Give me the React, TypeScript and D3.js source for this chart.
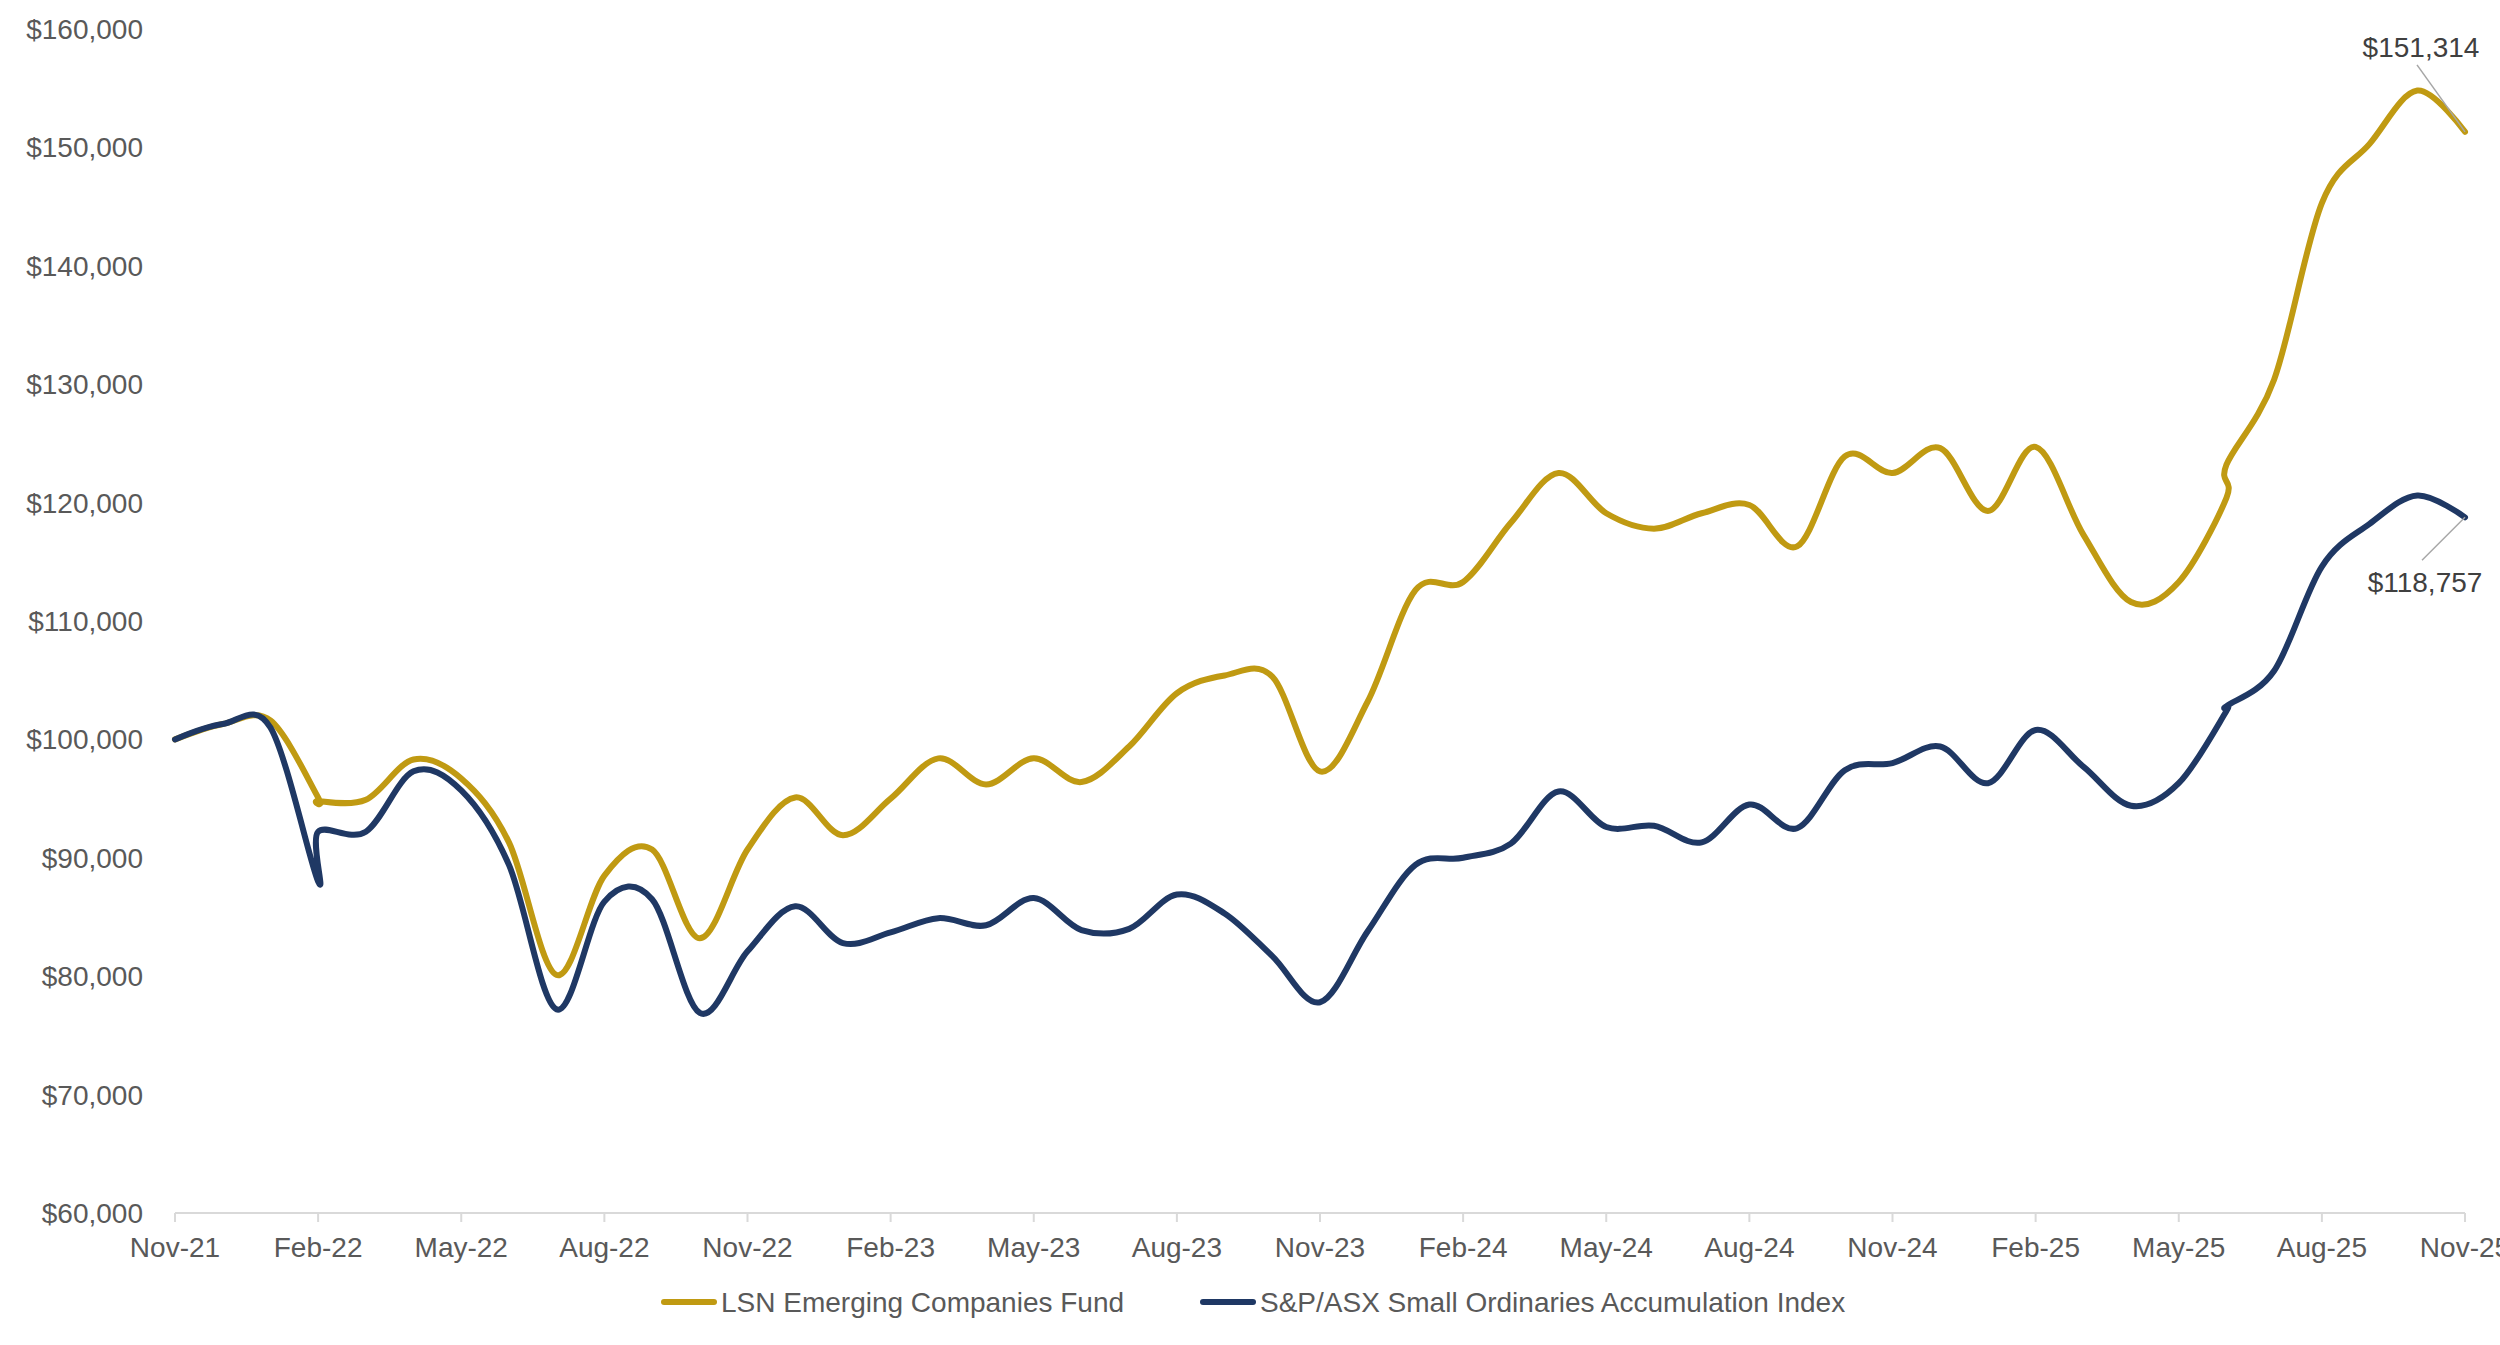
import React from "react";
import * as d3 from "d3";

// ---------- DATA ----------
const months: string[] = [
  "2021-11", "2021-12", "2022-01", "2022-02", "2022-02", "2022-03", "2022-04", "2022-05",
  "2022-06", "2022-07", "2022-08", "2022-09", "2022-10", "2022-11", "2022-12", "2023-01",
  "2023-02", "2023-03", "2023-04", "2023-05", "2023-06", "2023-07", "2023-08", "2023-09",
  "2023-10", "2023-11", "2023-12", "2024-01", "2024-02", "2024-03", "2024-04", "2024-05",
  "2024-06", "2024-07", "2024-08", "2024-09", "2024-10", "2024-11", "2024-12", "2025-01",
  "2025-02", "2025-03", "2025-04", "2025-05", "2025-06", "2025-06", "2025-07", "2025-08",
  "2025-09", "2025-10", "2025-11",
];

const fundValues: number[] = [
  100000, 101300, 101600, 95100, 94800, 94900, 98300, 96700,
  91300, 80100, 88500, 90700, 83200, 90700, 95100, 91900,
  95000, 98400, 96200, 98400, 96400, 99400, 103900, 105400,
  105300, 97300, 103200, 112600, 113300, 118300, 122500, 119100,
  117800, 119100, 119800, 116300, 123900, 122500, 124600, 119300,
  124700, 117300, 111600, 113300, 120400, 123200, 130400, 145300,
  150300, 154800, 151314,
];

const indexValues: number[] = [
  100000, 101300, 101000, 88000, 92200, 92200, 97300, 95700,
  89400, 77200, 86300, 86500, 76900, 82100, 85900, 82800,
  83700, 84900, 84300, 86600, 83900, 84000, 86900, 85300,
  81700, 77800, 83800, 89400, 90000, 91200, 95600, 92600,
  92700, 91300, 94500, 92500, 97400, 98000, 99400, 96300,
  100800, 97700, 94400, 96300, 102400, 102800, 105800, 114600,
  118200, 120600, 118757,
];

const xTickMonths: string[] = [
  "2021-11", "2022-02", "2022-05", "2022-08", "2022-11", "2023-02", "2023-05", "2023-08",
  "2023-11", "2024-02", "2024-05", "2024-08", "2024-11", "2025-02", "2025-05", "2025-08", "2025-11",
];
const xTickLabels: string[] = [
  "Nov-21", "Feb-22", "May-22", "Aug-22", "Nov-22", "Feb-23", "May-23", "Aug-23",
  "Nov-23", "Feb-24", "May-24", "Aug-24", "Nov-24", "Feb-25", "May-25", "Aug-25", "Nov-25",
];
const yTicks: number[] = [60000, 70000, 80000, 90000, 100000, 110000, 120000, 130000, 140000, 150000, 160000];

const seriesNames: string[] = ["LSN Emerging Companies Fund", "S&P/ASX Small Ordinaries Accumulation Index"];
const seriesColors: string[] = ["#C09A12", "#1F3864"];

// ---------- HELPERS ----------
const monthIndex = (s: string) => {
  const [y, m] = s.split("-").map(Number);
  return (y - 2021) * 12 + (m - 11);
};

const W = 2500;
const H = 1345;
const FONT = "'Liberation Sans', Arial, Helvetica, sans-serif";
const FS = 28;

export default function App() {
  const x = d3.scaleLinear().domain([0, 48]).range([175, 2465]);
  const y = d3.scaleLinear().domain([60000, 160000]).range([1213, 29]);

  const line = d3
    .line<[number, number]>()
    .x((d) => x(d[0]))
    .y((d) => y(d[1]))
    .curve(d3.curveCardinal.tension(0));

  const fundPts: [number, number][] = months.map((m, i) => [monthIndex(m), fundValues[i]]);
  const idxPts: [number, number][] = months.map((m, i) => [monthIndex(m), indexValues[i]]);

  const fmt = (v: number) => "$" + d3.format(",")(v);

  const lastF = fundPts[fundPts.length - 1];
  const lastI = idxPts[idxPts.length - 1];
  const fx = x(lastF[0]), fy = y(lastF[1]);
  const ix = x(lastI[0]), iy = y(lastI[1]);

  const axisY = y(60000);

  return (
    <svg
      width={W}
      height={H}
      style={{ position: "absolute", left: 0, top: 0, display: "block", background: "#fff" }}
      fontFamily={FONT}
    >
      <rect x={0} y={0} width={W} height={H} fill="#fff" />
      {/* Y axis labels */}
      {yTicks.map((t) => (
        <text key={t} x={143} y={y(t) + 10} textAnchor="end" fontSize={FS} fill="#595959">
          {fmt(t)}
        </text>
      ))}
      {/* X axis */}
      <line x1={x(0)} x2={x(48)} y1={axisY} y2={axisY} stroke="#D9D9D9" strokeWidth={2} />
      {xTickMonths.map((m, i) => {
        const xx = x(monthIndex(m));
        return (
          <g key={m}>
            <line x1={xx} x2={xx} y1={axisY} y2={axisY + 9} stroke="#D9D9D9" strokeWidth={2} />
            <text x={xx} y={axisY + 44} textAnchor="middle" fontSize={FS} fill="#595959">
              {xTickLabels[i]}
            </text>
          </g>
        );
      })}
      {/* Lines */}
      <path d={line(fundPts) || ""} fill="none" stroke={seriesColors[0]} strokeWidth={6} strokeLinecap="round" strokeLinejoin="round" />
      <path d={line(idxPts) || ""} fill="none" stroke={seriesColors[1]} strokeWidth={6} strokeLinecap="round" strokeLinejoin="round" />

      {/* End labels */}
      <line x1={fx} y1={fy} x2={fx - 48} y2={fy - 67} stroke="#A6A6A6" strokeWidth={1.5} />
      <text x={fx - 44} y={fy - 75} textAnchor="middle" fontSize={FS} fill="#404040">
        {fmt(lastF[1])}
      </text>
      <line x1={ix} y1={iy} x2={ix - 43} y2={iy + 43} stroke="#A6A6A6" strokeWidth={1.5} />
      <text x={ix - 40} y={iy + 75} textAnchor="middle" fontSize={FS} fill="#404040">
        {fmt(lastI[1])}
      </text>

      {/* Legend */}
      {seriesNames.map((n, i) => {
        const lx = i === 0 ? 664 : 1203;
        const ly = 1302;
        return (
          <g key={n}>
            <line x1={lx} x2={lx + 50} y1={ly} y2={ly} stroke={seriesColors[i]} strokeWidth={6} strokeLinecap="round" />
            <text x={lx + 57} y={ly + 10} fontSize={FS} fill="#595959">
              {n}
            </text>
          </g>
        );
      })}
    </svg>
  );
}
